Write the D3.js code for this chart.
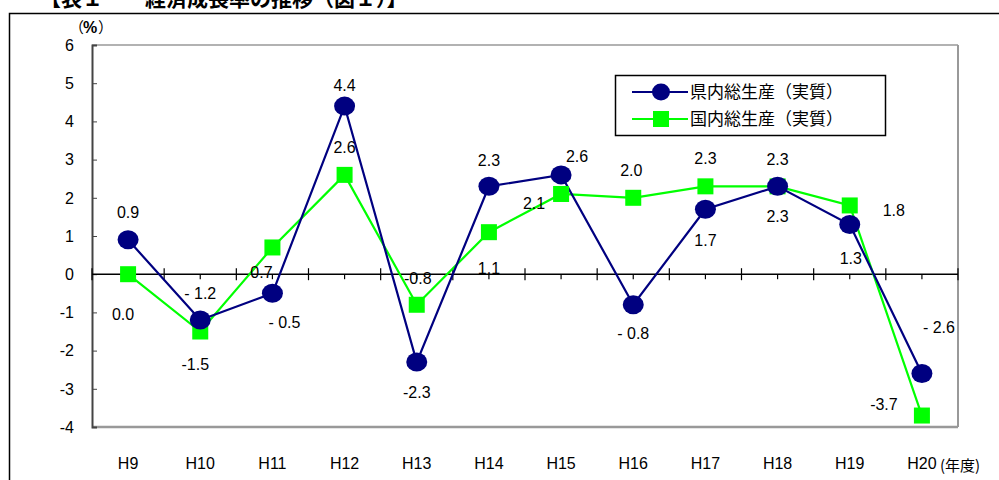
<!DOCTYPE html>
<html><head><meta charset="utf-8">
<script src="https://cdn.jsdelivr.net/npm/d3@7"></script>
<style>
html,body{margin:0;padding:0;background:#fff;overflow:hidden}
svg{display:block}
</style></head>
<body>
<script>
const categories = ["H9","H10","H11","H12","H13","H14","H15","H16","H17","H18","H19","H20"];
const prefValues = [0.9,-1.2,-0.5,4.4,-2.3,2.3,2.6,-0.8,1.7,2.3,1.3,-2.6];
const natValues  = [0.0,-1.5,0.7,2.6,-0.8,1.1,2.1,2.0,2.3,2.3,1.8,-3.7];
const prefLabels = ["0.9","- 1.2","- 0.5","4.4","-2.3","2.3","2.6","- 0.8","1.7","2.3","1.3","- 2.6"];
const natLabels  = ["0.0","-1.5","0.7","2.6","-0.8","1.1","2.1","2.0","2.3","2.3","1.8","-3.7"];
const yTicks = [6,5,4,3,2,1,0,-1,-2,-3,-4];
const seriesNames = ["県内総生産（実質）","国内総生産（実質）"];

// label offsets (layout only)
const prefOff = [[0,-28],[0,-27],[12,29],[0,-21],[0,30],[0,-26],[16,-19],[0,28],[0,31],[0,30],[1,34],[17,-46]];
const natOff  = [[-5,40],[-5,33],[-11,25],[0,-28],[1,-27],[0,36],[-27,9],[-2,-28],[0,-28],[0,-27],[44,5],[-38,-11]];

const W=999,H=480;
const svg=d3.select("body").append("svg").attr("width",W).attr("height",H);
const num="'Liberation Sans',Arial,sans-serif";
const jp="'Noto Sans CJK JP',sans-serif";

// outer frame
svg.append("rect").attr("x",9.5).attr("y",13.5).attr("width",1000).attr("height",500)
  .attr("fill","none").attr("stroke","#000").attr("stroke-width",1.5);
// title (cut off at the top edge, as in the reference)
svg.append("text").attr("x",40).attr("y",6).attr("font-family",jp).attr("font-weight","bold")
  .attr("font-size",21).attr("fill","#000").text("【表１　　経済成長率の推移（図１）】");

const L=92,R=958,T=45,B=427;
const x=d3.scaleBand().domain(categories).range([L,R]);
const y=d3.scaleLinear().domain([-4,6]).range([B,T]);
const cx=c=>x(c)+x.bandwidth()/2;

// plot border
svg.append("line").attr("x1",L).attr("x2",R).attr("y1",T).attr("y2",T).attr("stroke","#999").attr("stroke-width",1.5);
svg.append("line").attr("x1",R).attr("x2",R).attr("y1",T).attr("y2",B).attr("stroke","#999").attr("stroke-width",2);
svg.append("line").attr("x1",L).attr("x2",R).attr("y1",B).attr("y2",B).attr("stroke","#999").attr("stroke-width",2.5);

// y axis
const ya=svg.append("g").attr("transform",`translate(${L},0)`)
  .call(d3.axisRight(y).tickValues(yTicks).tickSize(5).tickFormat(""));
ya.select(".domain").attr("stroke","#444").attr("stroke-width",2);
ya.selectAll(".tick line").attr("stroke","#444").attr("stroke-width",1);
svg.append("g").selectAll("text").data(yTicks).join("text")
  .attr("x",74).attr("y",d=>y(d)).attr("dy","0.36em").attr("text-anchor","end")
  .attr("font-family",num).attr("font-size",16).attr("fill","#000").text(d=>d);
const pu=svg.append("text").attr("y",33).attr("font-family",jp).attr("font-size",15).attr("fill","#000");
pu.append("tspan").attr("x",69).text("（");
pu.append("tspan").attr("x",83).attr("font-family",num).attr("font-weight","bold").attr("font-size",16).text("%");
pu.append("tspan").attr("x",98).text("）");

// zero axis with ticks
const y0=y(0);
svg.append("line").attr("x1",L).attr("x2",R).attr("y1",y0).attr("y2",y0).attr("stroke","#000").attr("stroke-width",1.5);
const bounds=categories.map(c=>x(c)).concat([R]);
svg.append("g").selectAll("line").data(bounds).join("line")
  .attr("x1",d=>d).attr("x2",d=>d).attr("y1",y0-6).attr("y2",y0+6).attr("stroke","#000").attr("stroke-width",1.2);
svg.append("g").selectAll("line").data(categories).join("line")
  .attr("x1",d=>cx(d)).attr("x2",d=>cx(d)).attr("y1",y0).attr("y2",y0+5).attr("stroke","#000").attr("stroke-width",1.2);

// x labels
svg.append("g").selectAll("text").data(categories).join("text")
  .attr("x",d=>cx(d)).attr("y",463).attr("dy","0.36em").attr("text-anchor","middle")
  .attr("font-family","'Liberation Sans Narrow','Liberation Sans',Arial,sans-serif").attr("font-size",16)
  .attr("fill","#000").text(d=>d);
svg.append("text").attr("x",940).attr("y",471).attr("font-family",jp).attr("font-size",15)
  .attr("fill","#000").text("(年度)");

const blue="#000080", green="#00ff00";
const line=d3.line().x((d,i)=>cx(categories[i])).y(d=>y(d));
svg.append("path").datum(natValues).attr("d",line).attr("fill","none").attr("stroke",green).attr("stroke-width",2.2);
svg.append("path").datum(prefValues).attr("d",line).attr("fill","none").attr("stroke",blue).attr("stroke-width",2.2);
svg.append("g").selectAll("rect").data(natValues).join("rect")
  .attr("x",(d,i)=>cx(categories[i])-8).attr("y",d=>y(d)-8).attr("width",16).attr("height",16).attr("fill",green);
svg.append("g").selectAll("ellipse").data(prefValues).join("ellipse")
  .attr("cx",(d,i)=>cx(categories[i])).attr("cy",d=>y(d)).attr("rx",10.5).attr("ry",9.5).attr("fill",blue);

// data labels
function labels(vals,labs,off){
  svg.append("g").selectAll("text").data(vals).join("text")
    .attr("x",(d,i)=>cx(categories[i])+off[i][0]).attr("y",(d,i)=>y(d)+off[i][1])
    .attr("dy","0.36em").attr("text-anchor","middle").attr("font-family",num).attr("font-size",16)
    .attr("fill","#000").text((d,i)=>labs[i]);
}
labels(natValues,natLabels,natOff);
labels(prefValues,prefLabels,prefOff);

// legend
const lg=svg.append("g");
lg.append("rect").attr("x",615.5).attr("y",75.5).attr("width",270).attr("height",60)
  .attr("fill","#fff").attr("stroke","#000").attr("stroke-width",1.5);
const ly=[92,119];
[blue,green].forEach((c,i)=>{
  lg.append("line").attr("x1",632).attr("x2",688).attr("y1",ly[i]).attr("y2",ly[i]).attr("stroke",c).attr("stroke-width",2);
  if(i===0) lg.append("ellipse").attr("cx",661).attr("cy",ly[i]).attr("rx",9).attr("ry",8.5).attr("fill",c);
  else lg.append("rect").attr("x",653).attr("y",ly[i]-8).attr("width",16).attr("height",16).attr("fill",c);
  lg.append("text").attr("x",690).attr("y",ly[i]).attr("dy","0.36em").attr("font-family",jp)
    .attr("font-size",17).attr("fill","#000").text(seriesNames[i]);
});
</script>
</body></html>
